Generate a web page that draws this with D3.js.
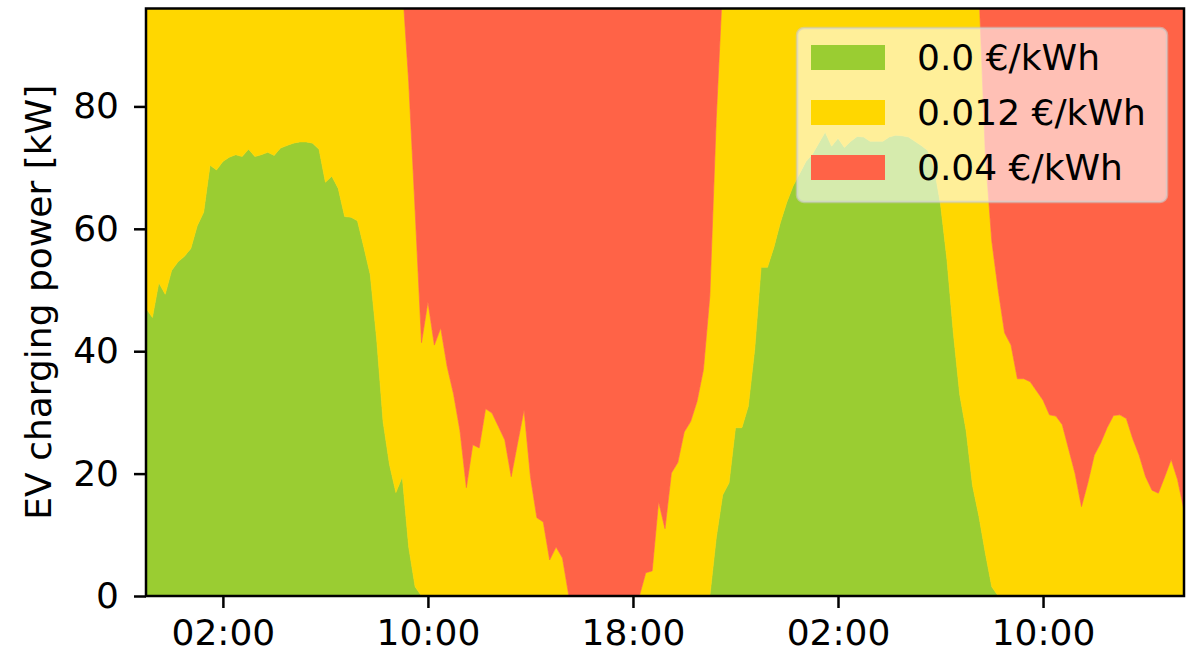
<!DOCTYPE html>
<html>
<head>
<meta charset="utf-8">
<script src="https://cdn.jsdelivr.net/npm/d3@7"></script>
<style>
  html, body { margin: 0; padding: 0; background: #ffffff; }
  svg { display: block; }
  text { font-family: "DejaVu Sans", "Liberation Sans", sans-serif; fill: #000; }
</style>
</head>
<body>
<svg id="chart" width="1191" height="664"></svg>
<script>
// Quarter-hourly EV charging power available at each price level.
const startTime = "2019-06-10T23:00";
const stepMinutes = 15;

const priceKeys = ["p000", "p012", "p040"];
const priceLabels = ["0.0 €/kWh", "0.012 €/kWh", "0.04 €/kWh"];
const priceColors = ["#9acd32", "#ffd700", "#ff6347"];

// 0.0 €/kWh
const power000 = [
  47, 45.5, 51.2, 49.3, 53.2, 54.6, 55.5, 56.8, 60.5, 62.7,
  70.4, 69.6, 71, 71.7, 72.1, 71.8, 73, 71.8, 72.1, 72.5,
  72, 73.2, 73.6, 74, 74.2, 74.2, 74, 73, 67.6, 68.6,
  66.6, 62, 61.9, 61.3, 57, 52.5, 42, 28.5, 21.5, 16.9,
  19.5, 8, 1.5, 0, 0, 0, 0, 0, 0, 0,
  0, 0, 0, 0, 0, 0, 0, 0, 0, 0,
  0, 0, 0, 0, 0, 0, 0, 0, 0, 0,
  0, 0, 0, 0, 0, 0, 0, 0, 0, 0,
  0, 0, 0, 0, 0, 0, 0, 0, 0, 9.5,
  16.5, 18.5, 27.5, 27.5, 31, 40.3, 53.7, 53.7, 57, 61,
  64.3, 67, 69, 71, 72.2, 74, 75.8, 73.5, 74.8, 73.3,
  74.3, 75.1, 75, 74.3, 74.3, 74.3, 75, 75.3, 75.2, 75,
  74.3, 73.6, 72.8, 70, 64, 55, 43, 32.9, 27, 18,
  13, 7, 1.5, 0, 0, 0, 0, 0, 0, 0,
  0, 0, 0, 0, 0, 0, 0, 0, 0, 0,
  0, 0, 0, 0, 0, 0, 0, 0, 0, 0,
  0, 0, 0
];

// 0.012 €/kWh
const power012 = [
  53, 54.5, 48.8, 50.7, 46.8, 45.4, 44.5, 43.2, 39.5, 37.3,
  29.6, 30.4, 29, 28.3, 27.9, 28.2, 27, 28.2, 27.9, 27.5,
  28, 26.8, 26.4, 26, 25.8, 25.8, 26, 27, 32.4, 31.4,
  33.4, 38, 38.1, 38.7, 43, 47.5, 58, 71.5, 78.5, 83.1,
  80.5, 76, 61.5, 41.4, 48.1, 41, 43.8, 37.5, 33, 27,
  17.7, 24.7, 24.2, 30.6, 29.9, 27.7, 25.5, 19.5, 25, 30.4,
  19.5, 12.8, 12.1, 5.9, 8, 6.2, 0, 0, 0, 0,
  0, 0, 0, 0, 0, 0, 0, 0, 3.8, 4.1,
  15.4, 11, 20.1, 21.8, 26.8, 28.5, 31.8, 37, 49, 68.5,
  83.5, 81.5, 72.5, 72.5, 69, 59.7, 46.3, 46.3, 43, 39,
  35.7, 33, 31, 29, 27.8, 26, 24.2, 26.5, 25.2, 26.7,
  25.7, 24.9, 25, 25.7, 25.7, 25.7, 25, 24.7, 24.8, 25,
  25.7, 26.4, 27.2, 30, 36, 45, 57, 67.1, 73, 82,
  86, 65, 56.5, 50, 43, 41, 35.5, 35.5, 35, 33.5,
  32, 29.6, 29.4, 28, 24, 20, 14.6, 18.5, 23, 25,
  27.5, 29.5, 29.6, 29, 25.7, 23, 19.5, 17.3, 16.8, 19.5,
  22.3, 19, 14
];

// 0.04 €/kWh
const power040 = [
  0, 0, 0, 0, 0, 0, 0, 0, 0, 0,
  0, 0, 0, 0, 0, 0, 0, 0, 0, 0,
  0, 0, 0, 0, 0, 0, 0, 0, 0, 0,
  0, 0, 0, 0, 0, 0, 0, 0, 0, 0,
  0, 16, 37, 58.6, 51.9, 59, 56.2, 62.5, 67, 73,
  82.3, 75.3, 75.8, 69.4, 70.1, 72.3, 74.5, 80.5, 75, 69.6,
  80.5, 87.2, 87.9, 94.1, 92, 93.8, 100, 100, 100, 100,
  100, 100, 100, 100, 100, 100, 100, 100, 96.2, 95.9,
  84.6, 89, 79.9, 78.2, 73.2, 71.5, 68.2, 63, 51, 22,
  0, 0, 0, 0, 0, 0, 0, 0, 0, 0,
  0, 0, 0, 0, 0, 0, 0, 0, 0, 0,
  0, 0, 0, 0, 0, 0, 0, 0, 0, 0,
  0, 0, 0, 0, 0, 0, 0, 0, 0, 0,
  1, 28, 42, 50, 57, 59, 64.5, 64.5, 65, 66.5,
  68, 70.4, 70.6, 72, 76, 80, 85.4, 81.5, 77, 75,
  72.5, 70.5, 70.4, 71, 74.3, 77, 80.5, 82.7, 83.2, 80.5,
  77.7, 81, 86
];

const xTickTimes = ["2019-06-11T02:00", "2019-06-11T10:00", "2019-06-11T18:00",
                    "2019-06-12T02:00", "2019-06-12T10:00"];
const yTicks = [0, 20, 40, 60, 80];
const yMax = 96;
const yLabel = "EV charging power [kW]";

// ---- layout ----
const W = 1191, H = 664;
const plot = { left: 146, right: 1184, top: 8.5, bottom: 596 };
const FONT = 36;

const parse = d3.timeParse("%Y-%m-%dT%H:%M");
const t0 = parse(startTime);
const rows = power000.map((v, i) => ({
  time: d3.timeMinute.offset(t0, i * stepMinutes),
  p000: v, p012: power012[i], p040: power040[i]
}));

const x = d3.scaleTime()
  .domain(d3.extent(rows, d => d.time))
  .range([plot.left, plot.right]);
const y = d3.scaleLinear()
  .domain([0, yMax])
  .range([plot.bottom, plot.top]);

const svg = d3.select("#chart");
svg.append("rect").attr("width", W).attr("height", H).attr("fill", "#fff");

svg.append("defs").append("clipPath").attr("id", "plotClip")
  .append("rect")
  .attr("x", plot.left).attr("y", plot.top)
  .attr("width", plot.right - plot.left).attr("height", plot.bottom - plot.top);

// stacked areas
const series = d3.stack().keys(priceKeys)(rows);
const area = d3.area()
  .x(d => x(d.data.time))
  .y0(d => y(d[0]))
  .y1(d => y(d[1]));

svg.append("g").attr("clip-path", "url(#plotClip)")
  .selectAll("path")
  .data(series)
  .join("path")
  .attr("d", area)
  .attr("fill", (d, i) => priceColors[i])
  .attr("stroke", (d, i) => priceColors[i])
  .attr("stroke-width", 0.6);

// axes
const xAxis = d3.axisBottom(x)
  .tickValues(xTickTimes.map(parse))
  .tickFormat(d3.timeFormat("%H:%M"))
  .tickSize(12).tickPadding(11);
const gx = svg.append("g")
  .attr("transform", `translate(0,${plot.bottom})`)
  .call(xAxis);

const yAxis = d3.axisLeft(y)
  .tickValues(yTicks)
  .tickFormat(d3.format("d"))
  .tickSize(12).tickPadding(15);
const gy = svg.append("g")
  .attr("transform", `translate(${plot.left},0)`)
  .call(yAxis);

[gx, gy].forEach(g => {
  g.select(".domain").remove();
  g.selectAll(".tick line").attr("stroke", "#000").attr("stroke-width", 2.5);
  g.selectAll(".tick text")
    .attr("font-size", FONT)
    .attr("font-family", "DejaVu Sans, sans-serif")
    .attr("fill", "#000");
});

// frame
svg.append("rect")
  .attr("x", plot.left).attr("y", plot.top)
  .attr("width", plot.right - plot.left).attr("height", plot.bottom - plot.top)
  .attr("fill", "none").attr("stroke", "#000").attr("stroke-width", 2.5);

// y label
svg.append("text")
  .attr("transform", `translate(51,${(plot.top + plot.bottom) / 2}) rotate(-90)`)
  .attr("text-anchor", "middle")
  .attr("font-size", FONT)
  .text(yLabel);

// legend
const legend = svg.append("g").attr("transform", "translate(797,28)");
legend.append("rect")
  .attr("width", 370).attr("height", 174)
  .attr("rx", 7).attr("ry", 7)
  .attr("fill", "#fff").attr("fill-opacity", 0.6)
  .attr("stroke", "#cccccc").attr("stroke-opacity", 0.6).attr("stroke-width", 2.5);

const item = legend.selectAll("g.item")
  .data(priceLabels)
  .join("g")
  .attr("class", "item")
  .attr("transform", (d, i) => `translate(0,${i * 55})`);
item.append("rect")
  .attr("x", 14).attr("y", 17)
  .attr("width", 74).attr("height", 25)
  .attr("fill", (d, i) => priceColors[i]);
item.append("text")
  .attr("x", 120).attr("y", 42)
  .attr("font-size", FONT)
  .text(d => d);
</script>
</body>
</html>
